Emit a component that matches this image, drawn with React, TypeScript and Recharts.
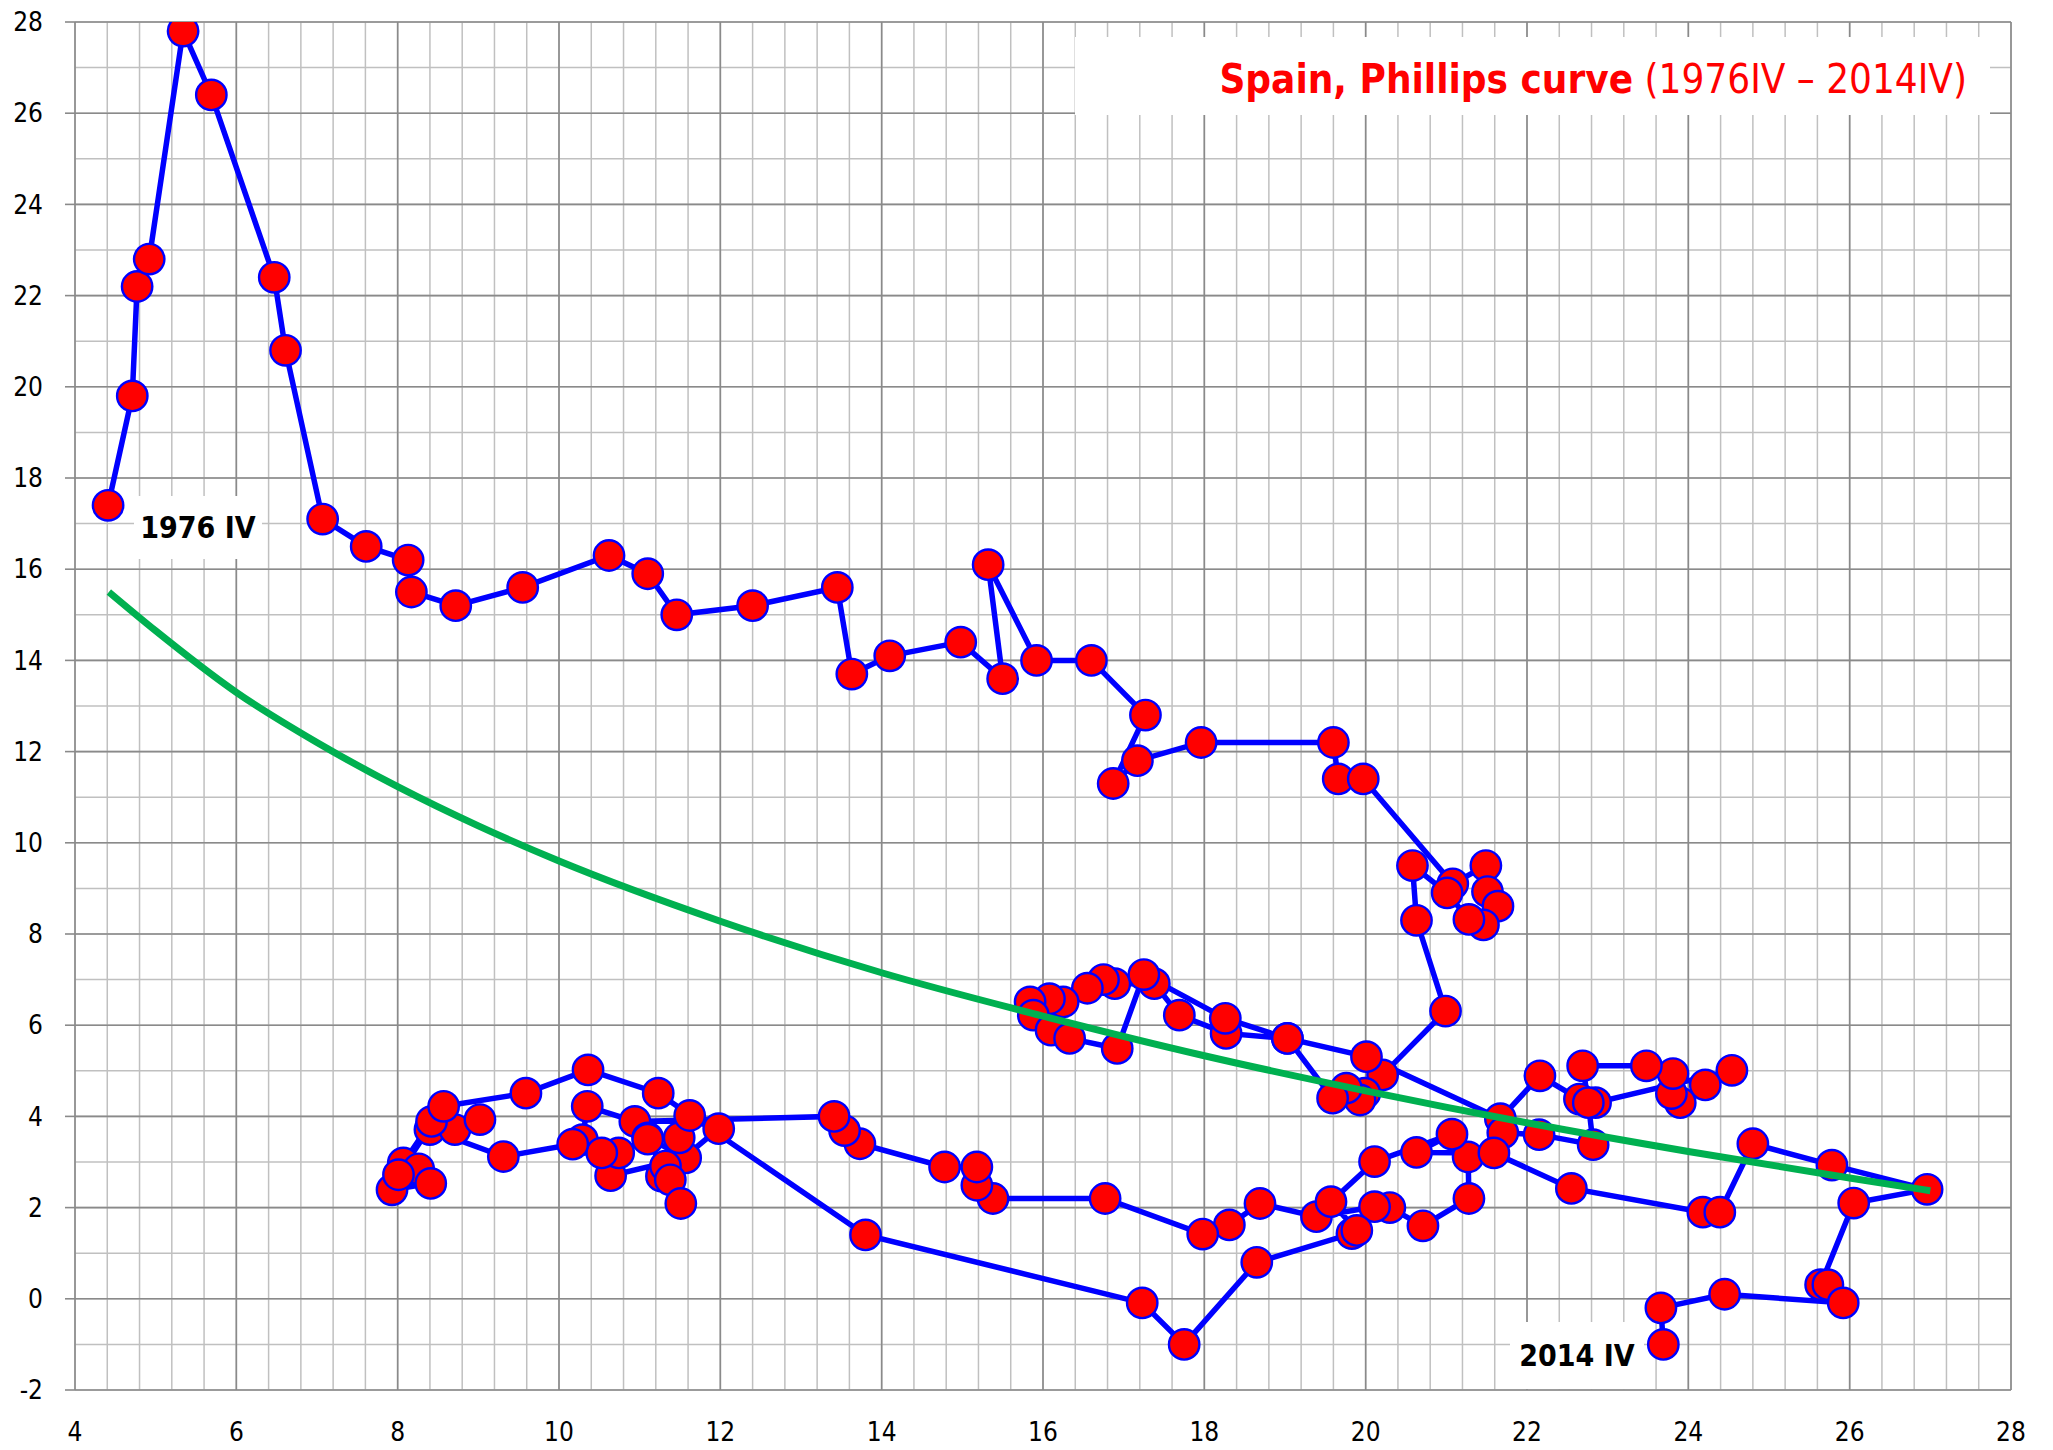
import React from "react";
import { ScatterChart, Scatter, XAxis, YAxis, ReferenceLine } from "recharts";

// Spain, quarterly 1976 IV – 2014 IV: unemployment rate (x, %) vs CPI inflation (y, %)
const unemployment = [
  4.41, 4.71, 4.77, 4.92, 5.34, 5.69, 6.47, 6.61, 7.07, 7.61,
  8.13, 8.17, 8.72, 9.55, 10.62, 11.1, 11.46, 12.4, 13.45, 13.63,
  14.1, 14.98, 15.5, 15.32, 15.92, 16.6, 17.27, 16.87, 17.17, 17.96,
  19.6, 19.66, 19.97, 21.08, 21.49, 21.51, 21.64, 21.46, 21.28, 21.01,
  20.58, 20.63,
  20.99, 20.21, 19.99, 19.93, 19.76, 19.59, 19.03, 18.27, 17.69, 17.38,
  16.89, 16.75, 16.55, 16.25, 16.08, 15.84, 15.88, 16.1, 16.33, 16.92,
  17.25, 18.26, 19.03, 20.01, 21.67, 22.16, 22.65, 22.85, 24.54, 24.21,
  23.9, 23.79, 23.81, 23.48, 22.69, 22.76, 22.82, 22.15, 21.7, 21.27,
  21.28, 20.71, 20.3, 20.11, 19.39, 18.69, 18.31, 17.98, 16.77, 15.38,
  15.18, 15.18, 14.78, 13.73, 13.54, 13.41,
  10.94, 10.35, 10.29, 10.64, 11.57, 11.1, 11.49, 11.62,
  11.98, 11.27, 11.32, 11.38, 11.51, 11.1, 10.74, 10.53,
  10.17, 9.31, 8.4, 8.71, 9.02, 8.42, 8.07, 8.26,
  8.41, 7.93, 8.01, 8.57, 9.59, 10.36, 11.23, 13.8,
  17.23, 17.75, 18.65, 19.83, 19.89, 19.57, 20.11, 21.07, 20.63, 21.59,
  22.55, 24.18, 24.39, 24.8, 25.78, 26.96, 26.05, 25.64, 25.73, 25.92,
  24.45, 23.66, 23.69,
];

const inflation = [
  17.4, 19.8, 22.2, 22.8, 27.8, 26.4, 22.4, 20.8, 17.1, 16.5,
  16.2, 15.5, 15.2, 15.6, 16.3, 15.9, 15.0, 15.2, 15.6, 13.7,
  14.1, 14.4, 13.6, 16.1, 14.0, 14.0, 12.8, 11.3, 11.8, 12.2,
  12.2, 11.4, 11.4, 9.1, 9.5, 8.93, 8.61, 8.2, 8.32, 8.9,
  9.5, 8.3,
  6.31, 4.91, 4.51, 4.36, 4.62, 4.4, 5.71, 5.82, 6.22, 6.91,
  6.91, 7.0, 6.81, 6.51, 6.58, 6.51, 6.22, 5.89, 5.71, 5.49,
  7.11, 6.15, 5.71, 5.31, 3.95, 4.89, 4.38, 4.3, 5.01, 4.69,
  4.3, 4.5, 4.94, 5.11, 5.11, 4.3, 3.38, 3.6, 3.64, 3.11,
  2.2, 1.6, 2.0, 2.02, 1.8, 2.09, 1.62, 1.42, 2.2, 2.2,
  2.49, 2.89, 2.89, 3.4, 3.69, 4.0,
  3.89, 4.22, 3.49, 2.7, 3.09, 3.53, 3.53, 4.02,
  3.73, 2.69, 2.91, 2.61, 2.09, 3.5, 3.2, 3.2,
  3.39, 3.12, 3.71, 3.71, 3.93, 3.89, 2.98, 2.85,
  2.53, 2.39, 2.72, 4.22, 4.51, 5.02, 4.51, 1.4,
  -0.09, -1.0, 0.8, 1.43, 1.5, 2.13, 3.01, 3.61, 3.21, 3.2,
  2.42, 1.9, 1.9, 3.4, 2.93, 2.4, 2.1, 0.31, 0.31, -0.09,
  0.1, -0.2, -1.0,
];

// green trend curve
const trendUnemployment = [4.42, 5, 6, 7, 8, 9, 10, 12, 14, 16, 18, 20, 22, 24, 26, 27];
const trendInflation = [15.5, 14.65, 13.3, 12.2, 11.23, 10.37, 9.6, 8.28, 7.15, 6.2, 5.33, 4.56, 3.86, 3.23, 2.65, 2.37];

const xTicks = [4, 6, 8, 10, 12, 14, 16, 18, 20, 22, 24, 26, 28];
const yTicks = [-2, 0, 2, 4, 6, 8, 10, 12, 14, 16, 18, 20, 22, 24, 26, 28];

const pathData = unemployment.map((u, i) => ({ x: u, y: inflation[i] }));
const trendData = trendUnemployment.map((u, i) => ({ x: u, y: trendInflation[i] }));

// minor grid: every 0.4 on x, every 1 on y
const minorX = Array.from({ length: 61 }, (_, i) => Math.round((4 + i * 0.4) * 10) / 10);
const minorY = Array.from({ length: 31 }, (_, i) => i - 2);

const FONT = "'Liberation Sans Narrow', 'DejaVu Sans Condensed', 'Noto Sans', sans-serif";

const Dot = (props: any) => (
  <circle cx={props.cx} cy={props.cy} r={15.2} fill="#FF0000" stroke="#0000FF" strokeWidth={2.4} />
);

const NoDot = () => <g />;

const labelBox: React.CSSProperties = {
  position: "absolute",
  background: "#fff",
  display: "flex",
  alignItems: "center",
  justifyContent: "center",
  fontFamily: FONT,
  fontWeight: 700,
  color: "#000",
  lineHeight: 1,
};

export default function App() {
  return (
    <div style={{ position: "relative", width: 2053, height: 1450, background: "#fff" }}>
      <style>{`body{margin:0}`}</style>
      <ScatterChart width={2053} height={1450} margin={{ top: 22, right: 42, left: 15, bottom: 10 }}>
        {minorX.map((v) => (
          <ReferenceLine key={"mx" + v} x={v} stroke="#C0C0C0" strokeWidth={1.5} />
        ))}
        {minorY.map((v) => (
          <ReferenceLine key={"my" + v} y={v} stroke="#C0C0C0" strokeWidth={1.5} />
        ))}
        {xTicks.map((v) => (
          <ReferenceLine key={"Mx" + v} x={v} stroke="#8A8A8A" strokeWidth={1.6} />
        ))}
        {yTicks.map((v) => (
          <ReferenceLine key={"My" + v} y={v} stroke="#8A8A8A" strokeWidth={1.6} />
        ))}
        <XAxis
          type="number"
          dataKey="x"
          domain={[4, 28]}
          ticks={xTicks}
          allowDataOverflow
          height={50}
          axisLine={false}
          tickLine={false}
          tickSize={0}
          tickMargin={33}
          tick={{ fontSize: 26, fill: "#000", fontFamily: FONT }}
          interval={0}
        />
        <YAxis
          type="number"
          dataKey="y"
          domain={[-2, 28]}
          ticks={yTicks}
          allowDataOverflow
          width={60}
          axisLine={false}
          tickLine={{ stroke: "#8A8A8A", strokeWidth: 1.6 }}
          tickSize={10}
          tickMargin={22}
          tick={{ fontSize: 26, fill: "#000", fontFamily: FONT }}
          interval={0}
        />
        <Scatter
          data={pathData}
          line={{ stroke: "#0000FF", strokeWidth: 5.5 }}
          lineType="joint"
          shape={Dot}
          isAnimationActive={false}
        />
        <Scatter
          data={trendData}
          line={{ stroke: "#00B050", strokeWidth: 7 }}
          lineType="joint"
          lineJointType="monotoneX"
          shape={NoDot}
          isAnimationActive={false}
        />
      </ScatterChart>

      <div
        style={{
          position: "absolute",
          left: 1075,
          top: 37,
          width: 915,
          height: 78,
          background: "#fff",
          display: "flex",
          alignItems: "center",
          justifyContent: "flex-end",
          paddingRight: 23,
          paddingTop: 6,
          boxSizing: "border-box",
          fontFamily: FONT,
          fontSize: 40,
          color: "#FF0000",
          lineHeight: 1,
          whiteSpace: "nowrap",
        }}
      >
        <span style={{ fontWeight: 700 }}>Spain, Phillips curve</span>
        <span>&nbsp;(1976IV – 2014IV)</span>
      </div>

      <div style={{ ...labelBox, left: 134, top: 496, width: 128, height: 63, fontSize: 30 }}>1976 IV</div>
      <div style={{ ...labelBox, left: 1510, top: 1322, width: 134, height: 67, fontSize: 30 }}>2014 IV</div>
    </div>
  );
}
